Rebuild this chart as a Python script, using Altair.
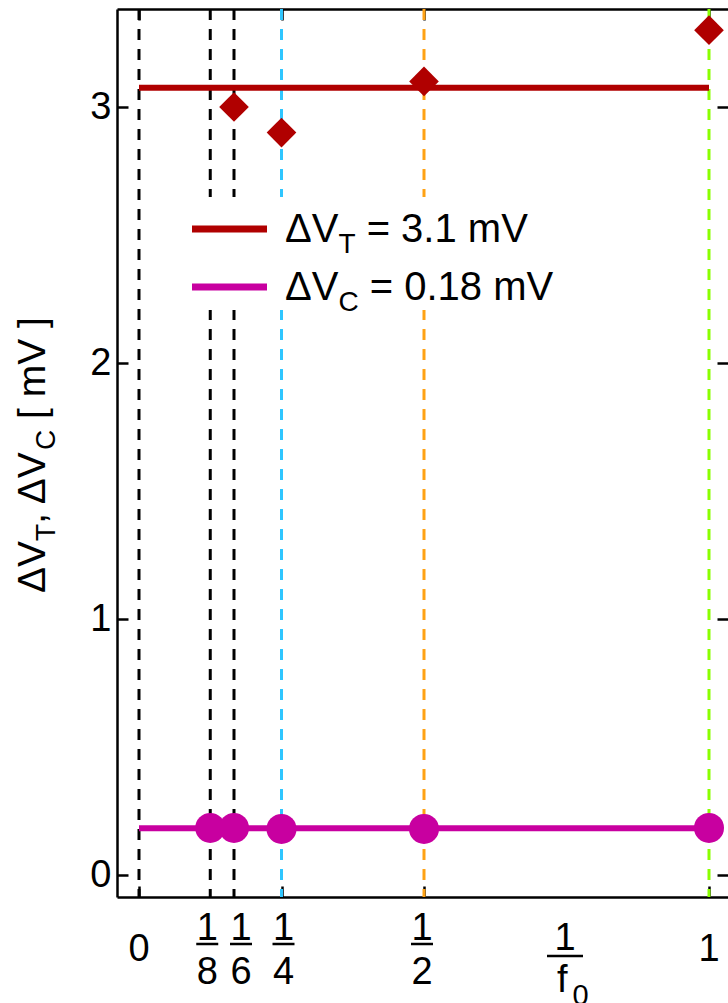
import altair as alt
import pandas as pd

# Fractions of the period 1/f0 marked by dashed guides, and their colours
guide_x = [0, 1/8, 1/6, 1/4, 1/2, 1]
guide_colors = ["#000000", "#000000", "#000000", "#2fc6ff", "#ffa214", "#8aff00"]

# Threshold shift ΔV_T (diamonds) and ΔV_C (circles), in mV
dvt_x = [1/6, 1/4, 1/2, 1]
dvt = [3.00, 2.90, 3.10, 3.30]
dvc_x = [1/8, 1/6, 1/4, 1/2, 1]
dvc = [0.184, 0.184, 0.180, 0.180, 0.184]

# Axis ticks and labels
x_ticks = [0, 0.25, 0.5, 1]
y_ticks = [0, 1, 2, 3]
whole_x = [0, 1]
whole_txt = ["0", "1"]
frac_x = [1/8, 1/6, 1/4, 1/2]
frac_den = ["8", "6", "4", "2"]
frac_dx = [-3, 7, 2, -2]

RED = "#b00000"
MAG = "#c800a0"
FONT = "Liberation Sans"

# Plot area geometry (pixels)
W, H = 611, 888
PAD = {"left": 117, "top": 9, "right": 0, "bottom": 106}
X_DOM = [-22 / 570, 589 / 570]
Y_DOM = [-22 / 256, 866 / 256]

xs = alt.Scale(domain=X_DOM, nice=False, zero=False)
ys = alt.Scale(domain=Y_DOM, nice=False, zero=False)

level_t = sum(dvt) / len(dvt)
level_c = sum(dvc) / len(dvc)

tick_style = dict(tickSize=11, tickWidth=2.5, tickColor="black",
                  domainWidth=2.5, domainColor="black", grid=False, title=None)
# Frame: every side drawn with inward-pointing ticks
ax_top = alt.Axis(orient="bottom", offset=-H, values=x_ticks, labels=False, domain=True, **tick_style)
ax_bottom = alt.Axis(orient="top", offset=-H, values=x_ticks, labels=False, domain=True, **tick_style)
ax_left_line = alt.Axis(orient="right", offset=-W, values=y_ticks, labels=False, domain=True, **tick_style)
ax_right_ticks = alt.Axis(orient="left", offset=-W, values=y_ticks, labels=False, domain=False, **tick_style)
ax_left_labels = alt.Axis(orient="left", values=y_ticks, ticks=False, domain=False, grid=False,
                          labelFont=FONT, labelFontSize=38, labelColor="black",
                          labelPadding=6, format="d", title=None)

one = pd.DataFrame({"a": [0]})

# Approximate advance widths (per 1000 em) for laying out text runs
ADV = {"Δ": 668, "V": 667, "T": 611, "C": 722, ",": 278, " ": 278,
       "[": 278, "]": 278, "m": 833, "=": 584, ".": 278, "f": 278}


def text_width(s, size):
    return sum(ADV.get(ch, 556) for ch in s) * size / 1000


def txt(text, x, y, size, angle=0):
    return alt.Chart(one).mark_text(
        text=text, font=FONT, fontSize=size, angle=angle, align="left",
        baseline="alphabetic", color="black"
    ).encode(x=alt.value(x), y=alt.value(y))


def rich(pieces, x0, y0, size, sub_size, sub_drop, vertical=False):
    """Lay out a run of normal and subscript pieces one after another."""
    out = []
    pos = 0.0
    for s, is_sub in pieces:
        fs = sub_size if is_sub else size
        shift = sub_drop if is_sub else 0
        # leading blanks are collapsed by the renderer, so advance past them
        body = s.lstrip(" ")
        pos += text_width(s[: len(s) - len(body)], fs)
        if vertical:
            out.append(txt(body, x0 + shift, y0 - pos, fs, angle=270))
        else:
            out.append(txt(body, x0 + pos, y0 + shift, fs))
        pos += text_width(body, fs)
    return out


# Dashed guides
guides = alt.Chart(pd.DataFrame({"x": guide_x, "c": guide_colors})).mark_rule(
    strokeDash=[11, 9], strokeWidth=3
).encode(
    x=alt.X("x:Q", scale=xs, axis=ax_top),
    color=alt.Color("c:N", scale=None),
)

legend_bg = alt.Chart(one).mark_rect(fill="white", stroke=None).encode(
    x=alt.value(33), x2=alt.value(503), y=alt.value(188), y2=alt.value(301)
)

# Mean levels
levels = alt.Chart(pd.DataFrame({
    "x": [0, 0], "x2": [1, 1], "y": [level_t, level_c], "c": [RED, MAG]
})).mark_rule(strokeWidth=6, strokeCap="butt").encode(
    x=alt.X("x:Q", scale=xs, axis=ax_bottom),
    x2="x2:Q",
    y=alt.Y("y:Q", scale=ys, axis=ax_left_line),
    color=alt.Color("c:N", scale=None),
)

diamonds = alt.Chart(pd.DataFrame({"x": dvt_x, "v": dvt})).mark_point(
    shape="diamond", filled=True, size=880, color=RED, opacity=1, strokeWidth=0
).encode(
    x=alt.X("x:Q", scale=xs, axis=None),
    y=alt.Y("v:Q", scale=ys, axis=ax_right_ticks),
)

circles = alt.Chart(pd.DataFrame({"x": dvc_x, "v": dvc})).mark_circle(
    size=900, color=MAG, opacity=1
).encode(
    x=alt.X("x:Q", scale=xs, axis=None),
    y=alt.Y("v:Q", scale=ys, axis=ax_left_labels),
)

# Legend
leg_lines = [
    alt.Chart(one).mark_rule(strokeWidth=7, color=c).encode(
        x=alt.value(75), x2=alt.value(150), y=alt.value(yy)
    )
    for c, yy in [(RED, 220), (MAG, 278)]
]
leg_text = (
    rich([("ΔV", 0), ("T", 1), (f" = {level_t:.1f} mV", 0)], 168, 233, 40, 28, 11)
    + rich([("ΔV", 0), ("C", 1), (f" = {level_c:.2f} mV", 0)], 168, 291, 40, 28, 11)
)

# Y axis title
y_title = rich([("ΔV", 0), ("T", 1), (", ΔV", 0), ("C", 1), (" [ mV ]", 0)],
               -72, 584, 39, 28, 10, vertical=True)

# X tick labels
whole = alt.Chart(pd.DataFrame({"x": whole_x, "t": whole_txt})).mark_text(
    font=FONT, fontSize=38, align="center", baseline="alphabetic", color="black"
).encode(x=alt.X("x:Q", scale=xs, axis=None), y=alt.value(952), text="t:N")

frac_layers = []
for fx, den, dx in zip(frac_x + [0.75], frac_den + ["f"], frac_dx + [-1.5]):
    d = pd.DataFrame({"x": [fx]})
    xe = alt.X("x:Q", scale=xs, axis=None)
    is_f = den == "f"
    frac_layers.append(alt.Chart(d).mark_text(
        text="1", font=FONT, fontSize=38, align="center", baseline="alphabetic",
        color="black", dx=dx
    ).encode(x=xe, y=alt.value(941 if is_f else 931)))
    half = 18 if is_f else 11
    frac_layers.append(alt.Chart(d).mark_rule(
        strokeWidth=2.5, color="black", xOffset=dx - half, x2Offset=dx + half
    ).encode(x=xe, x2="x:Q", y=alt.value(947 if is_f else 935)))
    if is_f:
        frac_layers.append(alt.Chart(d).mark_text(
            text="f", font=FONT, fontSize=38, align="left", baseline="alphabetic",
            color="black", dx=-9.5
        ).encode(x=xe, y=alt.value(983)))
        frac_layers.append(alt.Chart(d).mark_text(
            text="0", font=FONT, fontSize=29, align="left", baseline="alphabetic",
            color="black", dx=6
        ).encode(x=xe, y=alt.value(996)))
    else:
        frac_layers.append(alt.Chart(d).mark_text(
            text=den, font=FONT, fontSize=38, align="center", baseline="alphabetic",
            color="black", dx=dx
        ).encode(x=xe, y=alt.value(975)))

chart = alt.layer(
    guides, legend_bg, levels, diamonds, circles,
    *leg_lines, *leg_text, *y_title, whole, *frac_layers
).resolve_axis(x="independent", y="independent").properties(
    width=W, height=H, padding=PAD,
    autosize=alt.AutoSizeParams(type="none"),
    background="white",
).configure_view(stroke=None)

chart.save("out.html", embed_options={"renderer": "svg", "actions": False})
